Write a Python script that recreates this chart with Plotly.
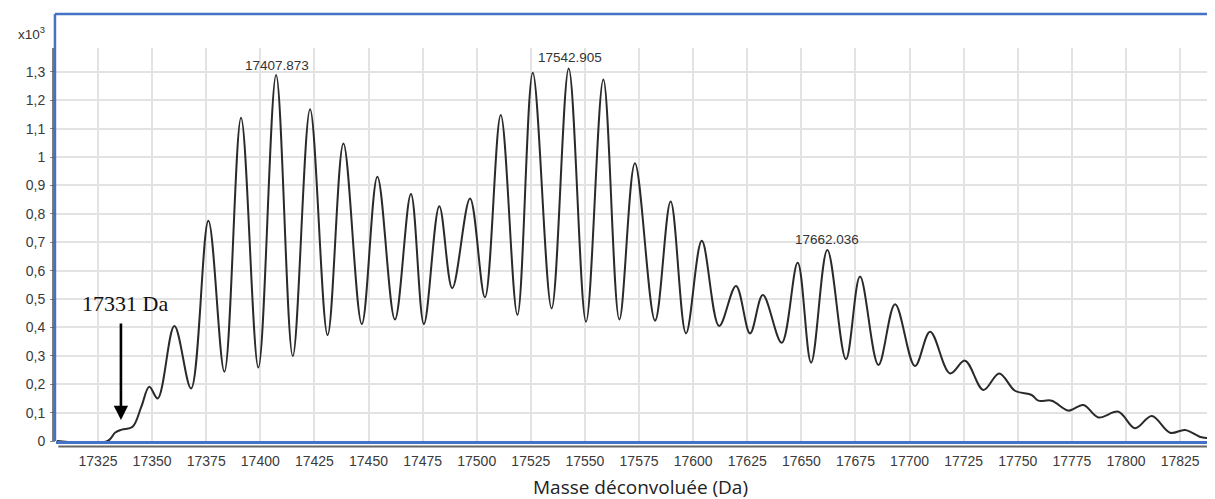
import plotly.graph_objects as go

# deconvoluted mass spectrum, intensities in thousands (x10^3)
masses = [17306, 17329.5, 17333, 17336, 17341, 17345, 17348.7, 17352.6, 17360.3, 17368,
          17376, 17383.4, 17391.1, 17399.1, 17407.3, 17415, 17423, 17431.1, 17438.4, 17446.9,
          17454.1, 17462.2, 17469.6, 17475.6, 17482.7, 17488.7, 17496.9, 17503.8, 17511.1, 17518.8,
          17525.9, 17534.6, 17542.5, 17550.5, 17558.5, 17565.9, 17573.1, 17582.4, 17589.6, 17596.7,
          17604, 17612, 17619.8, 17626.3, 17632.2, 17640.9, 17648.3, 17654.5, 17662, 17670.6,
          17677.1, 17685.6, 17693.3, 17702.5, 17709.5, 17718.7, 17725.6, 17734.1, 17741.4, 17748.7,
          17756.4, 17759.5, 17765.7, 17773.4, 17780.3, 17787.2, 17796.5, 17804.2, 17811.9, 17820.4,
          17827.3, 17835, 17841]
intensity = [0, 0, 0.03, 0.04, 0.05, 0.12, 0.191, 0.150, 0.405, 0.185,
             0.776, 0.244, 1.138, 0.259, 1.289, 0.299, 1.168, 0.373, 1.048, 0.412,
             0.931, 0.428, 0.870, 0.412, 0.827, 0.538, 0.854, 0.506, 1.148, 0.444,
             1.297, 0.467, 1.312, 0.420, 1.273, 0.428, 0.978, 0.424, 0.843, 0.379,
             0.705, 0.405, 0.546, 0.379, 0.514, 0.346, 0.628, 0.276, 0.673, 0.288,
             0.579, 0.268, 0.482, 0.264, 0.385, 0.238, 0.283, 0.180, 0.238, 0.177,
             0.162, 0.142, 0.142, 0.107, 0.127, 0.083, 0.103, 0.045, 0.088, 0.029,
             0.039, 0.013, 0.01]

x_ticks = list(range(17325, 17826, 25))
y_ticks = [0, 0.1, 0.2, 0.3, 0.4, 0.5, 0.6, 0.7, 0.8, 0.9, 1, 1.1, 1.2, 1.3]
y_labels = ["0", "0,1", "0,2", "0,3", "0,4", "0,5", "0,6", "0,7", "0,8", "0,9",
            "1", "1,1", "1,2", "1,3"]

peak_masses = [17407.873, 17542.905, 17662.036]
peak_labels = ["17407.873", "17542.905", "17662.036"]
peak_label_y = [1.324, 1.349, 0.711]

blue = "#4472C4"
grid = "#e3e3e3"
tickfont = dict(family="Liberation Sans, Arial", size=14, color="#3a3a3a")

fig = go.Figure(go.Scatter(
    x=masses, y=intensity, mode="lines",
    line=dict(color="#2a2a2a", width=2, shape="spline", smoothing=1.0),
    hoverinfo="skip",
))

for m, t, yy in zip(peak_masses, peak_labels, peak_label_y):
    fig.add_annotation(x=m, y=yy, text=t, showarrow=False,
                       font=dict(family="Liberation Sans, Arial", size=13.5, color="#333"),
                       xanchor="center", yanchor="middle")

# arrow marking the first species
fig.add_annotation(x=17335.6, y=0.074, text="", showarrow=True, ax=0, ay=-98,
                   axref="pixel", ayref="pixel", arrowhead=2, arrowsize=1.1,
                   arrowwidth=2.6, arrowcolor="#000")
fig.add_annotation(x=17316.7, y=0.486, text="17331 Da", showarrow=False,
                   xanchor="left", yanchor="middle",
                   font=dict(family="Liberation Serif, Times New Roman", size=22, color="#111"))

# exponent label and x title
fig.add_annotation(xref="paper", yref="paper", x=-0.008, y=1.038, text="x10<sup>3</sup>",
                   showarrow=False, xanchor="right", yanchor="middle",
                   font=dict(family="Liberation Sans, Arial", size=13.5, color="#333"))
fig.add_annotation(xref="paper", yref="paper", x=(640 - 56) / 1157, y=-0.117,
                   text="Masse déconvoluée (Da)", showarrow=False,
                   xanchor="center", yanchor="middle",
                   font=dict(family="Open Sans", size=19, color="#222"))

# blue frame and grey axis lines
top = (441 - 14) / 393
fig.add_shape(type="line", xref="paper", yref="paper", x0=-0.0009, x1=1.003, y0=top, y1=top,
              line=dict(color=blue, width=2.5))
fig.add_shape(type="line", xref="paper", yref="paper", x0=-0.0009, x1=-0.0009, y0=0, y1=top,
              line=dict(color=blue, width=2.5))
fig.add_shape(type="line", xref="paper", yref="paper", x0=-0.0026, x1=-0.0026, y0=0, y1=1,
              line=dict(color="#555", width=1.5))
fig.add_shape(type="line", xref="paper", yref="paper", x0=0.002, x1=1.003, y0=-0.014, y1=-0.014,
              line=dict(color="#666", width=2))

# the page body has an 8px margin, so the figure is 8px smaller each way
fig.update_layout(
    width=1207, height=491,
    margin=dict(l=48, r=2, t=40, b=58),
    plot_bgcolor="white", paper_bgcolor="white",
    showlegend=False,
    xaxis=dict(range=[17305.6, 17840.2], tickvals=x_ticks, ticktext=[str(v) for v in x_ticks],
               showgrid=True, gridcolor=grid, gridwidth=1.5, zeroline=False,
               showline=True, linecolor=blue, linewidth=2.5,
               ticks="", ticklabelstandoff=5, tickfont=tickfont),
    yaxis=dict(range=[0, 1.384], tickvals=y_ticks, ticktext=y_labels,
               showgrid=True, gridcolor=grid, gridwidth=1.5, zeroline=False,
               showline=False, ticks="outside", ticklen=5, tickcolor="#888",
               ticklabelstandoff=2, tickfont=tickfont),
)

fig.write_html("out.html")
